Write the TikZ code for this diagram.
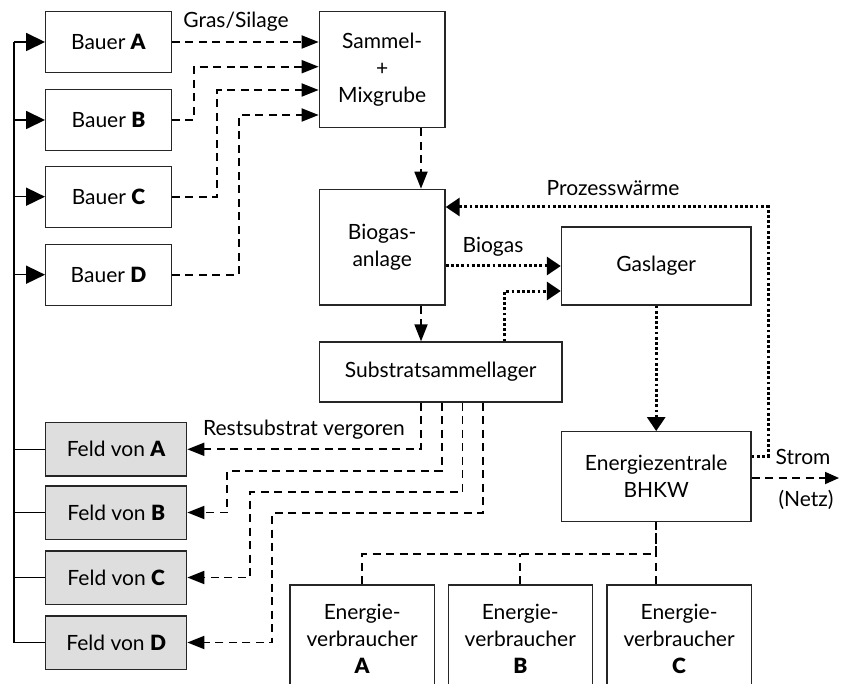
\documentclass[tikz,border=0pt]{standalone}
\usepackage{fontspec}
\setmainfont{Lato}[BoldFont={Lato Black}]
\usetikzlibrary{arrows.meta,calc}
\tikzset{
  box/.style={draw=black!85, line width=1.3pt, inner sep=0pt, align=center,
    font=\fontsize{21}{27}\selectfont},
  farmbox/.style={box, minimum width=125.6pt, minimum height=61pt},
  fieldbox/.style={box, fill=black!13, minimum width=141pt, minimum height=53.3pt},
  userbox/.style={box, minimum width=144.3pt, minimum height=108pt},
  lbl/.style={inner sep=0pt, font=\fontsize{21}{25}\selectfont},
  busline/.style={line width=1.6pt, black},
  feedarrow/.style={busline, -{Triangle[length=19pt,width=18pt]}},
  matflow/.style={line width=1.8pt, dash pattern=on 8pt off 5.5pt},
  matarrow/.style={matflow, -{Triangle[length=17pt,width=13pt]}},
  gasflow/.style={line width=3pt, dash pattern=on 2.8pt off 2.4pt,
    -{Triangle[length=14pt,width=18pt]}}
}
\begin{document}
\begin{tikzpicture}[x=1pt,y=-1pt]
\useasboundingbox (0,0) rectangle (842,684);
\clip (0,0) rectangle (842,684);

% farms
\node[farmbox] (bA) at (108.5,42)    {Bauer \textbf{A}};
\node[farmbox] (bB) at (108.5,120)   {Bauer \textbf{B}};
\node[farmbox] (bC) at (108.5,196.7) {Bauer \textbf{C}};
\node[farmbox] (bD) at (108.5,274.7) {Bauer \textbf{D}};

% plant
\node[box, minimum width=125.7pt, minimum height=116pt] (sm) at (382.2,69.7) {Sammel-\\+\\Mixgrube};
\node[box, minimum width=125.7pt, minimum height=115.7pt] (bg) at (382.2,247.2) {Biogas-\\anlage};
\node[box, minimum width=189.5pt, minimum height=78pt] (gl) at (656.2,266) {Gaslager};
\node[box, minimum width=242.7pt, minimum height=60pt] (ss) at (440.7,372) {Substratsammellager};
\node[box, minimum width=189.5pt, minimum height=90pt] (ez) at (656.2,476.7) {Energiezentrale\\BHKW};

% fields
\node[fieldbox] (fA) at (116.2,449.3) {Feld von \textbf{A}};
\node[fieldbox] (fB) at (116.2,512.5) {Feld von \textbf{B}};
\node[fieldbox] (fC) at (116.2,577.5) {Feld von \textbf{C}};
\node[fieldbox] (fD) at (116.2,642.5) {Feld von \textbf{D}};

% consumers
\node[userbox] (vA) at (362.2,639) {Energie-\\verbraucher\\\textbf{A}};
\node[userbox] (vB) at (520.3,639) {Energie-\\verbraucher\\\textbf{B}};
\node[userbox] (vC) at (679.1,639) {Energie-\\verbraucher\\\textbf{C}};

% labels
\node[lbl] (lgras) at (236,21.7) {Gras/Silage};
\node[lbl] (lbiogas) at (493,246.7) {Biogas};
\node[lbl] (lwaerme) at (613,188) {Prozesswärme};
\node[lbl] (lrest) at (304,430) {Restsubstrat vergoren};
\node[lbl] (lstrom) at (803,457) {Strom};
\node[lbl] (lnetz) at (806,500) {(Netz)};

% left bus: fields back to farms
\coordinate (bus) at (14,0);
\draw[busline] (bus |- bA) -- (bus |- fD.west);
\foreach \f in {bA,bB,bC,bD}
  \draw[feedarrow] (bus |- \f) -- (\f.west);
\foreach \f in {fA,fB,fC,fD}
  \draw[busline] (bus |- \f.west) -- (\f.west);

% silage to the pit
\draw[matarrow] (bA.east) -- (bA.east -| sm.west);
\draw[matarrow] (bB.east) -- ++(22,0) |- ([yshift=3pt]sm.west);
\draw[matarrow] (bC.east) -- ++(45.4,0) |- ([yshift=-20.3pt]sm.west);
\draw[matarrow] (bD.east) -- ++(67,0) |- ([yshift=-45.3pt]sm.west);

% pit -> plant -> substrate store
\draw[matarrow] ([xshift=38.8pt]sm.south) -- ([xshift=38.8pt]bg.north);
\draw[matarrow] ([xshift=38.8pt]bg.south) -- ([xshift=38.8pt]bg.south |- ss.north);

% gas paths
\draw[gasflow] (bg.east |- gl.west) -- (gl.west);
\draw[gasflow] ([xshift=64pt]ss.north) |- ([yshift=-25pt]gl.west);
\draw[gasflow] (gl.south) -- (ez.north);
\draw[gasflow] ([yshift=20.7pt]ez.east) -- ++(16.7,0) |- ([yshift=40.2pt]bg.east);

% electricity
\coordinate (netz) at (839,478);
\draw[matarrow, -{Triangle[length=14pt,width=12pt]}] (ez.east |- netz) -- (netz);

% digestate back to the fields
\draw[matarrow] ([xshift=-19.7pt]ss.south) |- (fA.east);
\draw[matarrow] ([xshift=1pt]ss.south) -- ++(0,68) -| ($(fB.east)+(40,0)$) -- (fB.east);
\draw[matarrow] ([xshift=21.7pt]ss.south) -- ++(0,89.7) -| ($(fC.east)+(62.6,0)$) -- (fC.east);
\draw[matarrow] ([xshift=42.3pt]ss.south) -- ++(0,110.3) -| ($(fD.east)+(85,0)$) -- (fD.east);

% distribution to consumers
\draw[matflow] (ez.south) -- (ez.south |- vC.north);
\draw[matflow] (vA.north) -- ++(0,-30) -| (ez.south);
\draw[matflow] (vB.north) -- ++(0,-30);
\end{tikzpicture}
\end{document}
